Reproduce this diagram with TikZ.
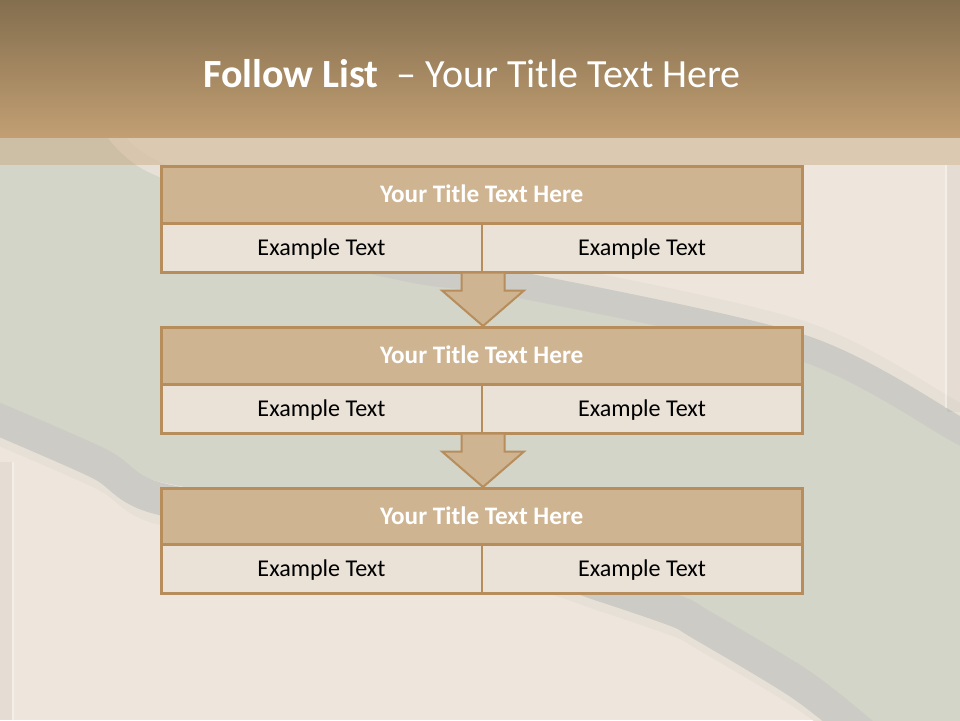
\documentclass[tikz,border=0pt]{standalone}
\usepackage{fontspec}
\setmainfont{Carlito}
\usetikzlibrary{calc}
\definecolor{bannertop}{HTML}{836E4E}
\definecolor{bannerbot}{HTML}{C29F73}
\definecolor{beigebg}{HTML}{EEE6DC}
\definecolor{greenbg}{HTML}{D3D5C8}
\definecolor{bandgrey}{HTML}{CDCBC5}
\definecolor{bandlight}{HTML}{E7E0D7}
\definecolor{titlefill}{HTML}{CFB492}
\definecolor{cellfill}{HTML}{EAE2D7}
\definecolor{boxline}{HTML}{B68D5B}
\begin{document}
\begin{tikzpicture}[x=1pt,y=-1pt,
  titlebox/.style={draw=boxline, fill=titlefill, line width=2.5pt, minimum width=641pt,
    minimum height=57pt, inner sep=0pt, anchor=north west, text=white,
    font=\bfseries\fontsize{25.2}{29}\selectfont, text height=16.2pt, text depth=0pt},
  cellbox/.style={draw=boxline, fill=cellfill, line width=2.5pt, minimum width=320.5pt,
    minimum height=49pt, inner sep=0pt, anchor=north west, text=black,
    font=\fontsize{24.1}{28}\selectfont, text height=15.5pt, text depth=0pt},
  arrowfill/.style={fill=titlefill},
  arrowline/.style={draw=boxline, line width=2pt, line join=miter},
  greyband/.style={draw=bandgrey, line cap=butt},
  lightband/.style={draw=bandlight, line cap=butt}
]
\clip (0,0) rectangle (960,720);
% background
\fill[beigebg] (0,0) rectangle (960,720);
\fill[greenbg] (-20,120) -- plot[smooth] coordinates {(100,120) (150,172) (335,238) (520,272) (803,335) (960,418) (990,436)}
  -- (990,760) -- plot[smooth] coordinates {(900,750) (867,720) (800,667) (700,607) (676,594) (600,568) (529,546) (340,512) (157,481) (100,447) (0,403) (-20,395)} -- cycle;
% top band
\draw[lightband, line width=14pt, shift={(0,-7)}] plot[smooth] coordinates {(100,120) (150,172) (335,238) (520,272) (803,335) (960,418) (990,436)};
\draw[greyband, line width=26pt, shift={(0,13)}] plot[smooth] coordinates {(300,232) (420,258) (520,272) (803,335) (960,418) (990,436)};
% lower band
\draw[lightband, line width=10pt, shift={(0,38)}] plot[smooth] coordinates {(-20,395) (0,403) (100,447) (157,481) (340,512) (529,546) (600,568) (676,594) (700,607) (800,667) (867,720) (900,750)};
\draw[greyband, line width=32pt, shift={(0,17)}] plot[smooth] coordinates {(-20,395) (0,403) (100,447) (157,481) (340,512) (529,546) (600,568) (676,594) (700,607) (800,667) (867,720) (900,750)};
% frame edges
\fill[black, opacity=0.035] (947,165) rectangle (960,412);
\draw[white, opacity=0.35, line width=1.5pt] (946,165) -- (946,408);
\fill[black, opacity=0.035] (0,462) rectangle (12,720);
\draw[white, opacity=0.35, line width=1.5pt] (13,462) -- (13,720);
% banner
\shade[top color=bannertop, bottom color=bannerbot] (0,0) rectangle (960,137);
\fill[bannerbot, opacity=0.4] (0,137) rectangle (960,165);
\node[anchor=base, text=white, font=\fontsize{40}{45}\selectfont, inner sep=0pt] (title) at (472,87)
  {\textbf{Follow List}\ \ – Your Title Text Here};
% boxes
\node[titlebox] (t1) at (160,165) {Your Title Text Here};
\node[cellbox] (c1l) at (160,222) {Example Text};
\node[cellbox] (c1r) at (480.5,222) {Example Text};
\node[titlebox] (t2) at (160,326) {Your Title Text Here};
\node[cellbox] (c2l) at (160,383) {Example Text};
\node[cellbox] (c2r) at (480.5,383) {Example Text};
\node[titlebox] (t3) at (160,487) {Your Title Text Here};
\node[cellbox] (c3l) at (160,543) {Example Text};
\node[cellbox] (c3r) at (480.5,543) {Example Text};
% arrows
\foreach \a/\b in {c1l/t2, c2l/t3}{
  \fill[arrowfill] let \p1=(\a.south east), \p2=(\b.north) in
    (\x1-21.5pt,\y1) -- (\x1-21.5pt,\y1-17pt) -- (\x1-41pt,\y1-17pt) -- (\x1,\y2)
    -- (\x1+41pt,\y1-17pt) -- (\x1+21.5pt,\y1-17pt) -- (\x1+21.5pt,\y1) -- cycle;
  \draw[arrowline] let \p1=(\a.south east), \p2=(\b.north) in
    (\x1-21.5pt,\y1) -- (\x1-21.5pt,\y1-17pt) -- (\x1-41pt,\y1-17pt) -- (\x1,\y2)
    -- (\x1+41pt,\y1-17pt) -- (\x1+21.5pt,\y1-17pt) -- (\x1+21.5pt,\y1);
}
\end{tikzpicture}
\end{document}
